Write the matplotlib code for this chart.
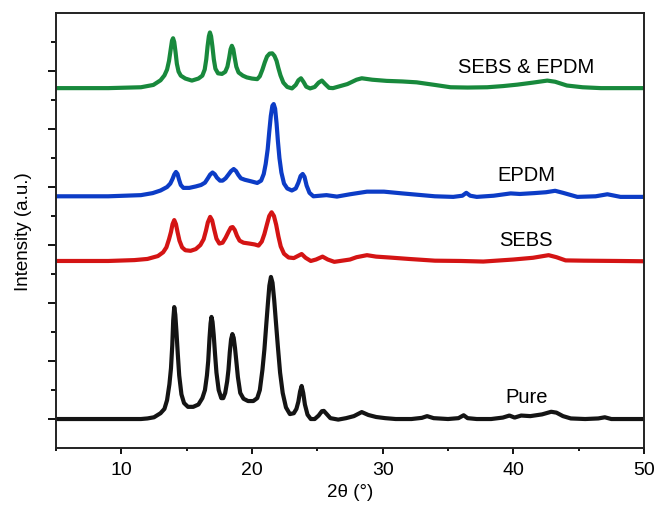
import matplotlib
matplotlib.use("Agg")
import matplotlib.pyplot as plt
from matplotlib.ticker import MultipleLocator

plt.rcParams['font.family'] = ['Liberation Sans', 'DejaVu Sans']

# Traced XRD patterns (2theta in degrees, intensity in stacked arbitrary units)
pure_x = [5.0, 8.0, 11.5, 12.0, 12.5, 13.0, 13.3, 13.5, 13.68, 13.8, 13.9, 13.97, 14.05, 14.13,
          14.22, 14.32, 14.43, 14.6, 14.8, 15.1, 15.5, 15.9, 16.2, 16.4, 16.55, 16.65, 16.75,
          16.83, 16.9, 16.98, 17.07, 17.17, 17.28, 17.45, 17.65, 17.8, 17.95, 18.1, 18.2, 18.3,
          18.4, 18.5, 18.6, 18.7, 18.8, 18.92, 19.1, 19.35, 19.7, 20.1, 20.4, 20.6, 20.8, 20.95,
          21.1, 21.22, 21.33, 21.45, 21.57, 21.7, 21.83, 21.98, 22.15, 22.35, 22.6, 22.9, 23.2,
          23.4, 23.55, 23.68, 23.8, 23.92, 24.05, 24.25, 24.5, 24.8, 25.1, 25.35, 25.5, 25.7,
          26.0, 26.6, 27.2, 27.8, 28.4, 28.9, 29.5, 30.2, 31.0, 32.2, 33.0, 33.4, 33.9, 35.0,
          35.8, 36.2, 36.5, 37.2, 38.3, 39.2, 39.7, 40.1, 40.6, 41.3, 42.2, 42.9, 43.3, 43.8,
          44.4, 45.5, 46.5, 47.0, 47.5, 48.5, 50.0]
pure_y = [1.0, 1.0, 1.0, 1.02, 1.06, 1.2, 1.35, 1.65, 2.2, 2.75, 3.55, 4.4, 4.86, 4.6,
          4.0, 3.25, 2.5, 1.85, 1.55, 1.42, 1.42, 1.5, 1.72, 2.0, 2.5, 3.0, 3.8,
          4.3, 4.52, 4.35, 3.9, 3.25, 2.6, 2.0, 1.72, 1.72, 1.9, 2.3, 2.7, 3.3,
          3.75, 3.93, 3.8, 3.45, 3.0, 2.45, 1.9, 1.7, 1.62, 1.62, 1.72, 2.0, 2.7, 3.4,
          4.3, 5.0, 5.6, 5.9, 5.7, 5.1, 4.35, 3.5, 2.6, 1.9, 1.4, 1.17, 1.2,
          1.35, 1.6, 1.95, 2.14, 1.9, 1.5, 1.15, 1.0, 1.0, 1.12, 1.27, 1.28, 1.18,
          1.03, 0.98, 1.03, 1.1, 1.24, 1.14, 1.07, 1.03, 1.0, 1.0, 1.04, 1.1, 1.03, 1.0,
          1.03, 1.13, 1.03, 1.0, 1.0, 1.05, 1.12, 1.05, 1.12, 1.1, 1.16, 1.25, 1.22, 1.1,
          1.02, 1.0, 1.02, 1.06, 1.0, 1.0, 1.0]

sebs_x = [5.0, 9.0, 11.0, 12.0, 12.8, 13.2, 13.45, 13.65, 13.8, 13.92, 14.05, 14.18, 14.3, 14.45,
          14.65, 14.9, 15.3, 15.7, 16.05, 16.3, 16.48, 16.62, 16.8, 16.95, 17.1, 17.28, 17.5,
          17.75, 17.98, 18.2, 18.38, 18.52, 18.68, 18.85, 19.05, 19.35, 19.8, 20.2, 20.5, 20.75,
          20.95, 21.15, 21.32, 21.5, 21.68, 21.85, 22.02, 22.2, 22.45, 22.8, 23.2, 23.5, 23.8,
          24.1, 24.5, 24.9, 25.4, 25.8, 26.3, 27.5, 28.0, 28.8, 29.5, 30.5, 32.0, 34.0, 36.0,
          37.7, 40.0, 41.5, 42.7, 43.3, 44.0, 45.4, 48.0, 50.0]
sebs_y = [6.45, 6.45, 6.48, 6.52, 6.62, 6.75, 6.92, 7.2, 7.45, 7.72, 7.86, 7.72, 7.45, 7.15,
          6.92, 6.82, 6.8, 6.86, 7.0, 7.2, 7.5, 7.78, 7.97, 7.85, 7.55, 7.22, 7.05,
          7.08, 7.25, 7.45, 7.6, 7.62, 7.52, 7.32, 7.15, 7.08, 7.05, 7.02, 6.98, 7.12,
          7.38, 7.72, 8.0, 8.13, 8.0, 7.7, 7.3, 6.95, 6.7, 6.57, 6.55, 6.62, 6.69,
          6.56, 6.45, 6.5, 6.6, 6.5, 6.42, 6.5, 6.58, 6.65, 6.6, 6.57, 6.52, 6.46, 6.45,
          6.43, 6.5, 6.56, 6.65, 6.58, 6.47, 6.46, 6.45, 6.44]

epdm_x = [5.0, 9.0, 11.5, 12.4, 13.0, 13.5, 13.75, 13.92, 14.05, 14.18, 14.3, 14.42, 14.55, 14.75,
          15.2, 15.7, 16.1, 16.4, 16.62, 16.8, 16.98, 17.15, 17.32, 17.55, 17.75, 17.98, 18.2,
          18.4, 18.6, 18.78, 18.95, 19.15, 19.45, 19.9, 20.4, 20.7, 20.9, 21.05, 21.2, 21.32,
          21.44, 21.56, 21.66, 21.77, 21.88, 21.98, 22.1, 22.25, 22.45, 22.7, 23.05, 23.35,
          23.55, 23.72, 23.88, 24.02, 24.18, 24.4, 24.7, 25.2, 25.7, 26.5, 27.5, 28.8, 30.1,
          31.5, 33.0, 34.0, 35.4, 36.1, 36.4, 36.7, 37.2, 38.5, 39.8, 40.5, 41.6, 42.5, 43.2,
          43.8, 44.9, 46.3, 47.2, 48.2, 50.0]
epdm_y = [8.68, 8.68, 8.72, 8.79, 8.88, 9.0, 9.12, 9.28, 9.43, 9.52, 9.45, 9.25, 9.07, 8.97,
          8.97, 9.02, 9.07, 9.15, 9.3, 9.43, 9.5, 9.44, 9.32, 9.22, 9.22, 9.3, 9.43,
          9.55, 9.62, 9.55, 9.42, 9.3, 9.25, 9.2, 9.14, 9.22, 9.45, 9.8, 10.3, 10.9,
          11.45, 11.8, 11.86, 11.7, 11.2, 10.6, 10.0, 9.5, 9.12, 8.95, 8.88, 8.95,
          9.15, 9.38, 9.45, 9.35, 9.05, 8.8, 8.68, 8.7, 8.72, 8.67, 8.75, 8.84, 8.84,
          8.78, 8.72, 8.68, 8.66, 8.7, 8.8, 8.7, 8.66, 8.7, 8.78, 8.76, 8.79, 8.82, 8.87,
          8.8, 8.66, 8.68, 8.75, 8.66, 8.66]

mix_x = [5.0, 9.0, 11.5, 12.45, 13.0, 13.3, 13.5, 13.65, 13.78, 13.88, 13.96, 14.05, 14.15, 14.25,
         14.38, 14.55, 14.9, 15.4, 15.9, 16.2, 16.38, 16.5, 16.6, 16.7, 16.78, 16.87, 16.97,
         17.08, 17.2, 17.4, 17.7, 17.95, 18.12, 18.25, 18.36, 18.46, 18.57, 18.68, 18.8, 18.97,
         19.3, 19.6, 20.0, 20.4, 20.6, 20.8, 20.98, 21.15, 21.35, 21.55, 21.72, 21.88, 22.02,
         22.18, 22.4, 22.7, 23.06, 23.35, 23.55, 23.75, 23.95, 24.15, 24.45, 24.8, 25.1, 25.35,
         25.6, 25.9, 26.2, 27.3, 28.0, 28.4, 29.2, 30.3, 31.5, 32.6, 34.0, 35.2, 36.5, 38.0,
         39.2, 40.3, 41.5, 42.6, 43.2, 44.1, 45.3, 46.7, 48.5, 50.0]
mix_y = [12.41, 12.41, 12.44, 12.52, 12.68, 12.85, 13.05, 13.35, 13.75, 14.05, 14.13, 14.0, 13.65, 13.25,
         12.98, 12.84, 12.74, 12.67, 12.74, 12.84, 13.05, 13.4, 13.85, 14.2, 14.33, 14.2, 13.85,
         13.4, 13.08, 12.92, 12.9, 12.97, 13.15, 13.45, 13.75, 13.87, 13.75, 13.45, 13.15, 12.95,
         12.84, 12.78, 12.74, 12.72, 12.82, 13.05, 13.3, 13.5, 13.6, 13.61, 13.52, 13.35, 13.1,
         12.85, 12.6, 12.45, 12.4, 12.52, 12.68, 12.75, 12.62, 12.46, 12.4, 12.45, 12.6, 12.67,
         12.55, 12.42, 12.41, 12.55, 12.7, 12.75, 12.7, 12.66, 12.64, 12.61, 12.52, 12.44, 12.43, 12.44,
         12.48, 12.53, 12.6, 12.67, 12.63, 12.5, 12.44, 12.41, 12.41, 12.41]

labels = ['Pure', 'SEBS', 'EPDM', 'SEBS & EPDM']
label_x = [41.0, 41.0, 41.0, 41.0]
label_y = [1.59, 7.01, 9.25, 12.97]

colors = ['#141414', '#d41414', '#0c3cc6', '#18893c']

fig = plt.figure(figsize=(6.58, 5.06), dpi=100)
ax = fig.add_axes([0.0851, 0.1126, 0.8936, 0.8597])

series = [(pure_x, pure_y), (sebs_x, sebs_y), (epdm_x, epdm_y), (mix_x, mix_y)]
for (xs, ys), c in zip(series, colors):
    ax.plot(xs, ys, color=c, lw=3.0, solid_joinstyle='round', solid_capstyle='butt')

for name, tx, ty in zip(labels, label_x, label_y):
    ax.text(tx, ty, name, ha='center', va='baseline', fontsize=14.5, color='black')

ax.set_xlim(5, 50)
ax.set_ylim(0, 15)
ax.xaxis.set_major_locator(MultipleLocator(10))
ax.xaxis.set_minor_locator(MultipleLocator(5))
ax.set_yticks([1, 3, 5, 7, 9, 11, 13])
ax.set_yticks([2, 4, 6, 8, 10, 12, 14], minor=True)
ax.set_yticklabels([])

ax.tick_params(axis='x', which='major', direction='out', length=4.3, width=1.3,
               labelsize=14, pad=5)
ax.tick_params(axis='x', which='minor', direction='out', length=2.5, width=1.3)
ax.tick_params(axis='y', which='major', direction='out', length=5.8, width=1.3)
ax.tick_params(axis='y', which='minor', direction='out', length=3.6, width=1.3)

for s in ax.spines.values():
    s.set_linewidth(1.4)
    s.set_color('#222222')

ax.set_xlabel('2θ (°)', fontsize=13.5, labelpad=4)
ax.set_ylabel('Intensity (a.u.)', fontsize=13.5, labelpad=8)

fig.savefig('out.png', dpi=100)
